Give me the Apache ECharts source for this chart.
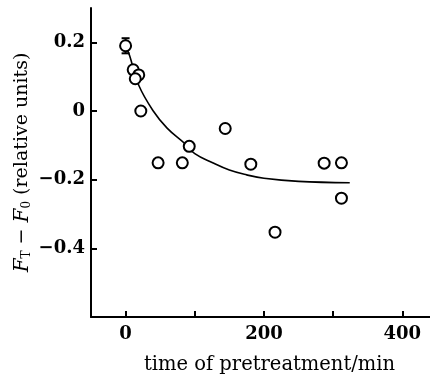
<!DOCTYPE html>
<html>
<head>
<meta charset="utf-8">
<script src="https://cdn.jsdelivr.net/npm/echarts@6/dist/echarts.min.js"></script>
<style>
    html, body { margin: 0; padding: 0; background: #fff; }
    #chart { width: 430px; height: 377px; }
</style>
</head>
<body>
<div id="chart"></div>
<script>
const timeMin = [0, 11, 19, 14, 22, 92, 47, 82, 144, 181, 287, 312, 216, 312];
const deltaF = [0.19, 0.12, 0.105, 0.094, 0.0, -0.103, -0.151, -0.151, -0.051, -0.155, -0.152, -0.151, -0.353, -0.254];

// 第一个点的误差棒
const errTime = [0];
const errLow = [0.168];
const errHigh = [0.212];

// 拟合曲线（沿图中曲线读取）
const fitTime = [2, 6, 19, 40, 60, 85, 100, 125, 150, 175, 200, 250, 324];
const fitValue = [0.18, 0.16, 0.075, 0.0, -0.05, -0.094, -0.124, -0.15, -0.172, -0.186, -0.196, -0.205, -0.209];

// 刻度
const xTicks = [0, 100, 200, 300, 400];
const xLabels = [0, 200, 400];
const yTicks = [-0.4, -0.2, 0, 0.2];

const serif = '"DejaVu Serif", "Liberation Serif", serif';

function initChart() {
    const chartDom = document.getElementById('chart');
    const myChart = echarts.init(chartDom);

    const option = {
        backgroundColor: '#fff',
        animation: false,
        grid: {
            left: 91,
            right: 0,
            top: 8,
            bottom: 60,
            outerBoundsMode: 'none'
        },
        xAxis: {
            type: 'value',
            min: -50,
            max: 440,
            name: 'time of pretreatment/min',
            nameLocation: 'middle',
            nameGap: 38,
            nameMoveOverlap: false,
            nameTextStyle: {
                fontFamily: serif,
                fontSize: 19.5,
                color: '#000',
                padding: [0, 0, 0, 18]
            },
            axisLine: {
                onZero: false,
                lineStyle: { color: '#000', width: 2 }
            },
            axisTick: {
                inside: true,
                length: 6,
                customValues: xTicks,
                lineStyle: { color: '#000', width: 2 }
            },
            axisLabel: {
                customValues: xLabels,
                margin: 8,
                fontFamily: serif,
                fontWeight: 'bold',
                fontSize: 18,
                color: '#000'
            },
            splitLine: { show: false }
        },
        yAxis: {
            type: 'value',
            min: -0.6,
            max: 0.3,
            name: '{it|F}{sub|T} − {it|F}{sub|0} (relative units)',
            nameLocation: 'middle',
            nameGap: 58,
            nameMoveOverlap: false,
            nameTextStyle: {
                fontFamily: serif,
                fontSize: 19,
                color: '#000',
                rich: {
                    it: { fontFamily: serif, fontSize: 20, fontStyle: 'italic', color: '#000' },
                    sub: { fontFamily: serif, fontSize: 12, color: '#000', padding: [9, 0, 0, 0] }
                }
            },
            axisLine: {
                onZero: false,
                lineStyle: { color: '#000', width: 2 }
            },
            axisTick: {
                inside: true,
                length: 6,
                customValues: yTicks,
                lineStyle: { color: '#000', width: 2 }
            },
            axisLabel: {
                customValues: yTicks,
                margin: 6,
                fontFamily: serif,
                fontWeight: 'bold',
                fontSize: 18,
                color: '#000',
                formatter: (v) => v === 0 ? '0' : (v < 0 ? '−' + Math.abs(v).toFixed(1) : v.toFixed(1))
            },
            splitLine: { show: false }
        },
        series: [
            {
                type: 'line',
                data: fitTime.map((t, i) => [t, fitValue[i]]),
                smooth: 0.4,
                symbol: 'none',
                lineStyle: { color: '#000', width: 1.6 },
                z: 2
            },
            {
                type: 'custom',
                data: errTime.map((t, i) => [t, errLow[i], errHigh[i]]),
                renderItem: (params, api) => {
                    const lo = api.coord([api.value(0), api.value(1)]);
                    const hi = api.coord([api.value(0), api.value(2)]);
                    const cap = 4;
                    const style = { stroke: '#000', lineWidth: 2 };
                    return {
                        type: 'group',
                        children: [
                            { type: 'line', shape: { x1: lo[0], y1: lo[1], x2: hi[0], y2: hi[1] }, style },
                            { type: 'line', shape: { x1: hi[0] - cap, y1: hi[1], x2: hi[0] + cap, y2: hi[1] }, style },
                            { type: 'line', shape: { x1: lo[0] - cap, y1: lo[1], x2: lo[0] + cap, y2: lo[1] }, style }
                        ]
                    };
                },
                z: 3
            },
            {
                type: 'scatter',
                data: timeMin.map((t, i) => [t, deltaF[i]]),
                symbol: 'circle',
                symbolSize: 11,
                itemStyle: {
                    color: '#fff',
                    borderColor: '#000',
                    borderWidth: 2,
                    opacity: 1
                },
                z: 4
            }
        ]
    };

    myChart.setOption(option);
}

initChart();
</script>
</body>
</html>
